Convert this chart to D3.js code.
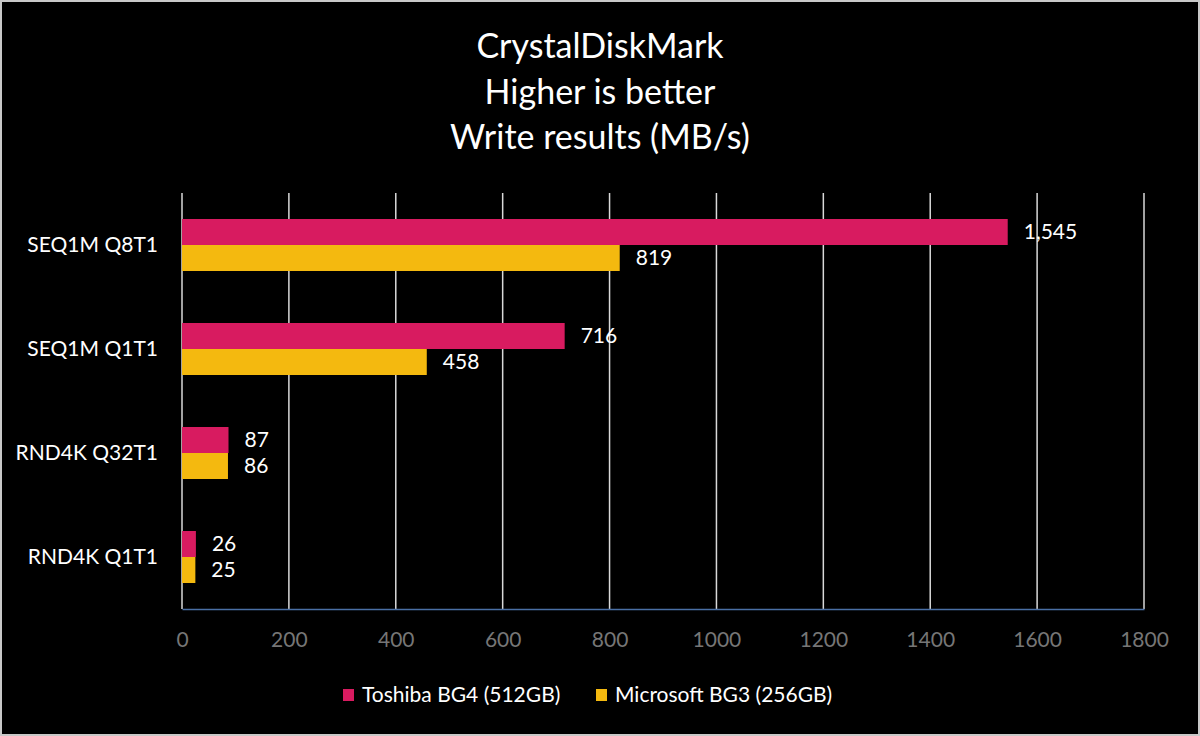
<!DOCTYPE html>
<html>
<head>
<meta charset="utf-8">
<script src="https://cdn.jsdelivr.net/npm/d3@7"></script>
<style>
  body { margin: 0; background: #fff; }
  svg { display: block; font-family: Lato, "Open Sans", sans-serif; }
</style>
</head>
<body>
<svg id="chart"></svg>
<script>
const categories = ["SEQ1M Q8T1", "SEQ1M Q1T1", "RND4K Q32T1", "RND4K Q1T1"];
const seriesNames = ["Toshiba BG4 (512GB)", "Microsoft BG3 (256GB)"];
const toshiba = [1545, 716, 87, 26];
const microsoft = [819, 458, 86, 25];
const xTicks = [0, 200, 400, 600, 800, 1000, 1200, 1400, 1600, 1800];
const titleLines = ["CrystalDiskMark", "Higher is better", "Write results (MB/s)"];
const colors = ["#d81b60", "#f4b90f"];

const width = 1200, height = 736;
const margin = {top: 193, right: 56, bottom: 127, left: 182};
const innerW = width - margin.left - margin.right;
const innerH = height - margin.top - margin.bottom;

const svg = d3.select("#chart").attr("width", width).attr("height", height);

// background + thin grey frame
svg.append("rect").attr("x", 1).attr("y", 1).attr("width", width - 2).attr("height", height - 2)
  .attr("fill", "#000").attr("stroke", "#c8c8c8").attr("stroke-width", 2);

// title
svg.append("g").selectAll("text").data(titleLines).join("text")
  .attr("x", width / 2)
  .attr("y", (d, i) => 58 + i * 45.5)
  .attr("text-anchor", "middle")
  .attr("fill", "#fff")
  .attr("font-size", 34)
  .text(d => d);

const chart = svg.append("g").attr("transform", `translate(${margin.left},${margin.top})`);

const x = d3.scaleLinear().domain([0, 1800]).range([0, innerW]);
const y = d3.scaleBand().domain(categories).range([0, innerH]).paddingInner(0.5).paddingOuter(0.25);
const ySub = d3.scaleBand().domain([0, 1]).range([0, y.bandwidth()]);

// vertical gridlines
chart.append("g").selectAll("line").data(xTicks).join("line")
  .attr("x1", d => x(d)).attr("x2", d => x(d))
  .attr("y1", 0).attr("y2", innerH)
  .attr("stroke", "#d9d9d9").attr("stroke-width", 1.5);

// x axis
const xAxisG = chart.append("g")
  .attr("transform", `translate(0,${innerH})`)
  .call(d3.axisBottom(x).tickValues(xTicks).tickFormat(d3.format("d")).tickSize(0).tickPadding(23));
xAxisG.select(".domain").attr("stroke", "#4a6fa5").attr("stroke-width", 1.5);
xAxisG.selectAll("text").attr("fill", "#767676").attr("font-size", 21).attr("font-family", "Lato, sans-serif");

// y axis labels
const yAxisG = chart.append("g")
  .call(d3.axisLeft(y).tickSize(0).tickPadding(24));
yAxisG.select(".domain").remove();
yAxisG.selectAll("text").attr("fill", "#fff").attr("font-size", 21).attr("font-family", "Lato, sans-serif");

const rows = categories.map((c, i) => ({cat: c, vals: [toshiba[i], microsoft[i]]}));
const fmt = d3.format(",");

const groups = chart.append("g").selectAll("g").data(rows).join("g")
  .attr("transform", d => `translate(0,${y(d.cat)})`);

groups.selectAll("rect").data(d => d.vals.map((v, k) => ({v, k}))).join("rect")
  .attr("x", 0)
  .attr("y", d => ySub(d.k))
  .attr("width", d => x(d.v))
  .attr("height", ySub.bandwidth())
  .attr("fill", d => colors[d.k]);

groups.selectAll("text").data(d => d.vals.map((v, k) => ({v, k}))).join("text")
  .attr("x", d => x(d.v) + 16)
  .attr("y", d => ySub(d.k) + ySub.bandwidth() / 2)
  .attr("dy", "0.35em")
  .attr("fill", "#fff")
  .attr("font-size", 21)
  .text(d => fmt(d.v));

// legend
const legendX = [343, 596];
const legend = svg.append("g").selectAll("g").data(seriesNames).join("g")
  .attr("transform", (d, i) => `translate(${legendX[i]},695)`);
legend.append("rect").attr("x", 0).attr("y", -6).attr("width", 11).attr("height", 12)
  .attr("fill", (d, i) => colors[i]);
legend.append("text").attr("x", 19).attr("dy", "0.35em")
  .attr("fill", "#fff").attr("font-size", 21).text(d => d);
</script>
</body>
</html>
